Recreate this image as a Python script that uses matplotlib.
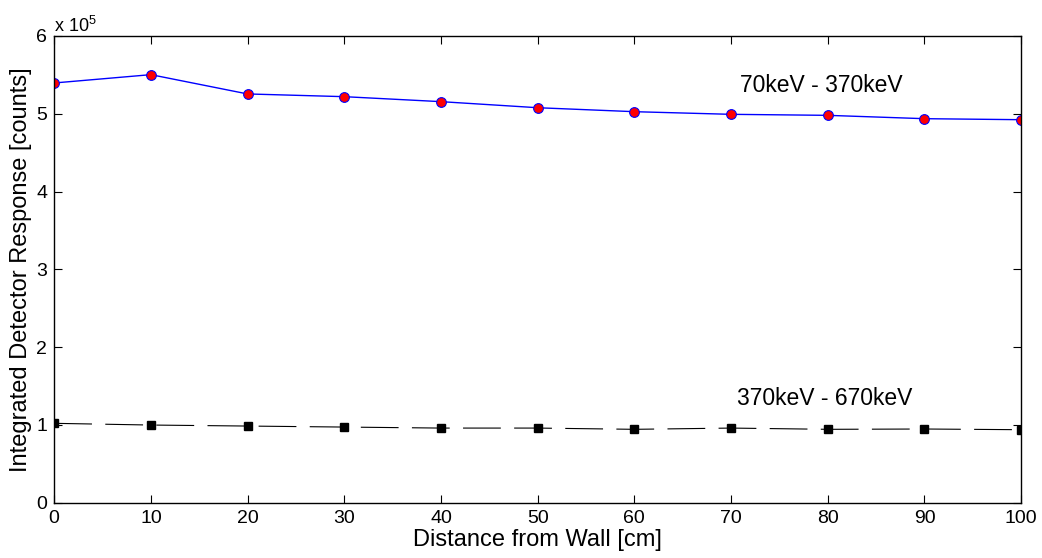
import matplotlib
matplotlib.use("Agg")
import matplotlib.pyplot as plt
from matplotlib.ticker import FuncFormatter, MultipleLocator

plt.rcParams['font.family'] = ['Liberation Sans', 'DejaVu Sans']
plt.rcParams['mathtext.fontset'] = 'custom'
plt.rcParams['mathtext.rm'] = 'Liberation Sans'

distance = [0, 10, 20, 30, 40, 50, 60, 70, 80, 90, 100]
low_band = [539600, 550300, 525500, 522000, 515600, 507800, 502700, 499300, 498000, 493700, 492400]
high_band = [102100, 99900, 98600, 97300, 96000, 96000, 94400, 96000, 94400, 94800, 93900]
low_label = "70keV - 370keV"
high_label = "370keV - 670keV"

fig = plt.figure(figsize=(10.42, 5.58), dpi=100)
ax = fig.add_axes([0.052, 0.099, 0.928, 0.8365])

ax.plot(distance, low_band, '-', color='blue', lw=1.0, marker='o', markersize=7,
        markerfacecolor='red', markeredgecolor='blue', markeredgewidth=0.8)
ax.plot(distance, high_band, color='black', lw=0.8, marker='s', markersize=6,
        markerfacecolor='black', markeredgecolor='black', dashes=(34, 12))

ax.set_xlim(0, 100)
ax.set_ylim(0, 6e5)
ax.xaxis.set_major_locator(MultipleLocator(10))
ax.yaxis.set_major_locator(MultipleLocator(1e5))
ax.yaxis.set_major_formatter(FuncFormatter(lambda v, p: f"{v/1e5:.0f}"))
ax.tick_params(direction='in', length=6, width=0.8, top=True, right=True,
               labelsize=14, colors='black')
ax.tick_params(axis='x', pad=5)
ax.tick_params(axis='y', pad=5)
for s in ax.spines.values():
    s.set_linewidth(1.0)

ax.set_xlabel("Distance from Wall [cm]", fontsize=17, labelpad=2)
ax.set_ylabel("Integrated Detector Response [counts]", fontsize=17, labelpad=3)

ax.text(0.0, 1.0, r"x 10$^{5}$", transform=ax.transAxes, fontsize=13,
        ha='left', va='bottom')

ax.text(70.9, 5.37e5, low_label, fontsize=16.5, ha='left', va='center')
ax.text(70.6, 1.346e5, high_label, fontsize=16.5, ha='left', va='center')

fig.savefig("out.png", dpi=100)
